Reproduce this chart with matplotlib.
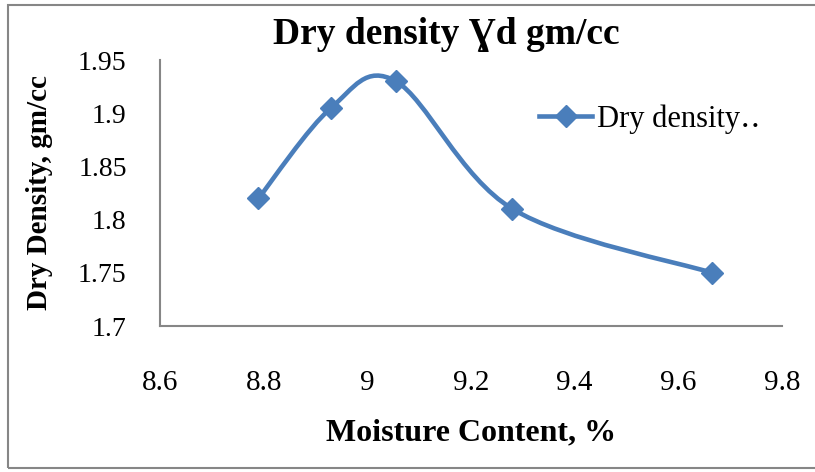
import numpy as np
import matplotlib.pyplot as plt
from matplotlib.path import Path
from matplotlib.patches import PathPatch, Rectangle
from matplotlib.lines import Line2D

# data
moisture = [8.79, 8.93, 9.055, 9.28, 9.665]
dry_density = [1.82, 1.905, 1.93, 1.81, 1.75]
x_ticks = [8.6, 8.8, 9.0, 9.2, 9.4, 9.6, 9.8]
x_tick_labels = ['8.6', '8.8', '9', '9.2', '9.4', '9.6', '9.8']
y_ticks = [1.7, 1.75, 1.8, 1.85, 1.9, 1.95]
y_tick_labels = ['1.7', '1.75', '1.8', '1.85', '1.9', '1.95']

plt.rcParams['font.family'] = ['Liberation Serif', 'DejaVu Serif']
blue = '#4A7EBB'
grey = '#868686'

fig = plt.figure(figsize=(8.15, 4.72), dpi=100)
ax = fig.add_axes([160 / 815, 1 - 326 / 472, 622 / 815, 266 / 472])


def smooth_path(xs, ys):
    """Excel-like smoothed line: cubic bezier with Catmull-Rom control points"""
    pts = np.column_stack([xs, ys])
    n = len(pts)
    verts = [pts[0]]
    codes = [Path.MOVETO]
    for i in range(n - 1):
        p0 = pts[max(i - 1, 0)]
        p1 = pts[i]
        p2 = pts[i + 1]
        p3 = pts[min(i + 2, n - 1)]
        c1 = p1 + (p2 - p0) / 6
        c2 = p2 - (p3 - p1) / 6
        verts += [c1, c2, p2]
        codes += [Path.CURVE4] * 3
    return Path(verts, codes)


ax.add_patch(PathPatch(smooth_path(moisture, dry_density), facecolor='none',
                       edgecolor=blue, lw=3.3, capstyle='round', joinstyle='round'))
ax.plot(moisture, dry_density, ls='none', marker='D', ms=11.5, color=blue)

ax.set_xlim(8.6, 9.8)
ax.set_ylim(1.7, 1.95)
ax.set_xticks(x_ticks, x_tick_labels)
ax.set_yticks(y_ticks, y_tick_labels)
ax.tick_params(axis='x', length=0, pad=32, labelsize=21)
ax.tick_params(axis='y', length=0, pad=24, labelsize=20)
for s in ['top', 'right']:
    ax.spines[s].set_visible(False)
for s in ['left', 'bottom']:
    ax.spines[s].set_color(grey)
    ax.spines[s].set_linewidth(1.5)

ax.set_xlabel('Moisture Content, %', fontsize=23, fontweight='bold', labelpad=16)
ax.set_ylabel('Dry Density, gm/cc', fontsize=21, fontweight='bold', labelpad=18)

fig.text(446 / 815, 1 - 34 / 472, 'Dry density Ɣd gm/cc', fontsize=27,
         fontweight='bold', ha='center', va='center')

handle = Line2D([], [], color=blue, lw=3.3, marker='D', ms=11.5)
ax.legend([handle], ['Dry density‥'], loc='center left', frameon=False,
          bbox_to_anchor=(539 / 815, 1 - 119 / 472), bbox_transform=fig.transFigure,
          fontsize=22, handlelength=1.75, handletextpad=0.15, borderpad=0, borderaxespad=0)

# outer chart frame
fig.add_artist(Rectangle((8 / 815, 1 - 468 / 472), 1.0, 463 / 472,
                         transform=fig.transFigure, fill=False,
                         edgecolor=grey, lw=1.5))

fig.savefig('out.png', dpi=100)
